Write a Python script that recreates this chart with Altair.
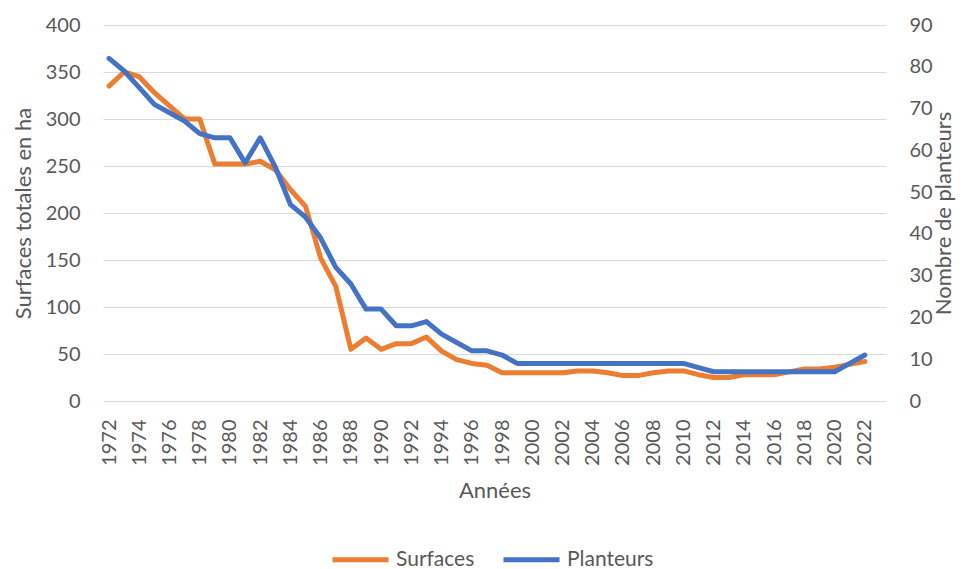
import altair as alt
import pandas as pd

years = list(range(1972, 2023))
surfaces = [335, 350, 345, 328, 314, 300, 300, 252, 252, 252,
            255, 246, 225, 207, 152, 122, 55, 67, 55, 61,
            61, 68, 53, 44, 40, 38, 30, 30, 30, 30,
            30, 32, 32, 30, 27, 27, 30, 32, 32, 28,
            25, 25, 28, 28, 28, 31, 34, 34, 36, 39,
            42]
planteurs = [82, 79, 75, 71, 69, 67, 64, 63, 63, 57,
             63, 56, 47, 44, 39, 32, 28, 22, 22, 18,
             18, 19, 16, 14, 12, 12, 11, 9, 9, 9,
             9, 9, 9, 9, 9, 9, 9, 9, 9, 8,
             7, 7, 7, 7, 7, 7, 7, 7, 7, 9,
             11]
series_names = ["Surfaces", "Planteurs"]
series_colors = ["#ED7D31", "#4472C4"]
x_ticks = list(range(1972, 2023, 2))
left_ticks = [0, 50, 100, 150, 200, 250, 300, 350, 400]
right_ticks = [0, 10, 20, 30, 40, 50, 60, 70, 80, 90]

df_s = pd.DataFrame({"annee": years, "valeur": surfaces, "serie": "Surfaces"})
df_p = pd.DataFrame({"annee": years, "valeur": planteurs, "serie": "Planteurs"})

FONT = "Lato"
TXT = "#595959"
GRID = "#D9D9D9"

common_axis = dict(
    labelFont=FONT, titleFont=FONT, labelColor=TXT, titleColor=TXT,
    labelFontSize=20, titleFontSize=22, titleFontWeight="normal",
    domain=False, ticks=False,
)

x = alt.X(
    "annee:Q",
    scale=alt.Scale(domain=[1971.6, 2023.4], nice=False, zero=False),
    axis=alt.Axis(values=x_ticks, format="d", labelAngle=-90, title="Années",
                  grid=False, labelPadding=18, titlePadding=15,
                  labelFlush=False, labelOverlap=False, **common_axis),
)

color = alt.Color(
    "serie:N",
    scale=alt.Scale(domain=series_names, range=series_colors),
    legend=alt.Legend(
        title=None, orient="none", direction="horizontal",
        legendX=227, legendY=504,
        symbolType="stroke", symbolSize=3136, symbolStrokeWidth=5,
        labelFont=FONT, labelFontSize=21, labelColor=TXT,
        labelOffset=5, columnPadding=18,
    ),
)

line_style = dict(strokeWidth=5, strokeCap="round", strokeJoin="round")

left = alt.Chart(df_s).mark_line(**line_style).encode(
    x=x,
    y=alt.Y("valeur:Q", scale=alt.Scale(domain=[0, 400], nice=False),
            axis=alt.Axis(values=left_ticks, orient="left",
                          title="Surfaces totales en ha", grid=True,
                          gridColor=GRID, gridWidth=1.2,
                          labelPadding=23, titlePadding=10, **common_axis)),
    color=color,
)

right = alt.Chart(df_p).mark_line(**line_style).encode(
    x=x,
    y=alt.Y("valeur:Q", scale=alt.Scale(domain=[0, 90], nice=False),
            axis=alt.Axis(values=right_ticks, orient="right",
                          title="Nombre de planteurs", grid=False,
                          titleAngle=270, labelPadding=23, titlePadding=23,
                          **common_axis)),
    color=color,
)

chart = (
    alt.layer(left, right)
    .resolve_scale(y="independent")
    .properties(
        width=783, height=376,
        autosize=alt.AutoSizeParams(type="none"),
        padding={"left": 95, "top": 17, "right": 71, "bottom": 168},
    )
    .configure_view(stroke=None)
)

chart.save("out.html", embed_options={"renderer": "svg", "actions": False})
